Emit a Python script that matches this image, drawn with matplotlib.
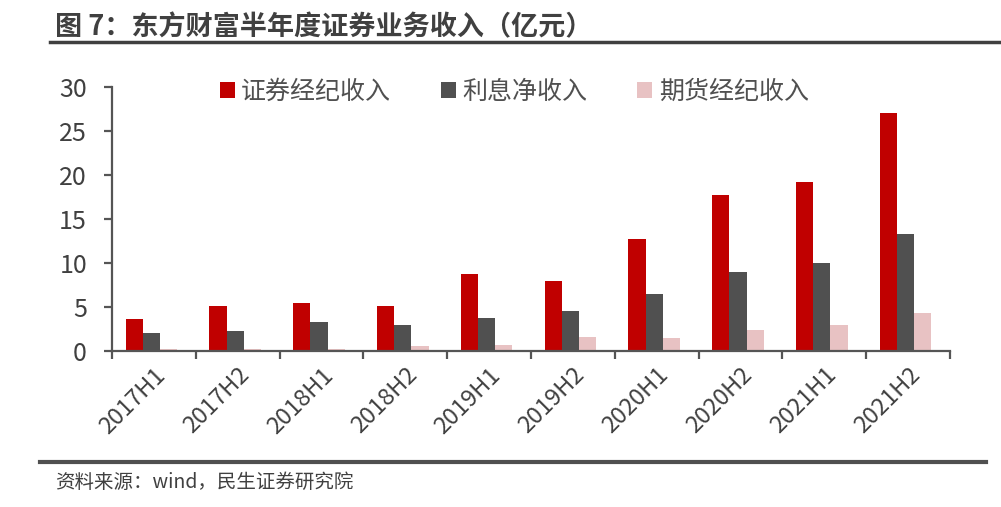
import matplotlib
matplotlib.use("Agg")
import matplotlib.pyplot as plt
import numpy as np
from matplotlib.lines import Line2D

plt.rcParams["font.family"] = ["Noto Sans CJK SC", "DejaVu Sans"]

periods = ["2017H1", "2017H2", "2018H1", "2018H2", "2019H1",
           "2019H2", "2020H1", "2020H2", "2021H1", "2021H2"]
brokerage = [3.6, 5.1, 5.5, 5.1, 8.8, 7.9, 12.7, 17.7, 19.2, 27.0]
net_interest = [2.0, 2.3, 3.3, 3.0, 3.7, 4.5, 6.5, 9.0, 10.0, 13.3]
futures = [0.25, 0.25, 0.25, 0.6, 0.7, 1.6, 1.5, 2.4, 3.0, 4.3]
series_names = ["证券经纪收入", "利息净收入", "期货经纪收入"]
colors = ["#C00000", "#505050", "#E8C2C3"]

fig = plt.figure(figsize=(10.01, 5.07), dpi=100)
ax = fig.add_axes([112 / 1001, 156 / 507, 838 / 1001, 264 / 507])

x = np.arange(len(periods))
w = 0.205
for i, (vals, name, c) in enumerate(zip([brokerage, net_interest, futures], series_names, colors)):
    ax.bar(x + (i - 1) * w - 0.03, vals, width=w, color=c, label=name, zorder=2)

ax.set_xlim(-0.5, len(periods) - 0.5)
ax.set_ylim(0, 30)
ax.set_yticks(range(0, 31, 5))
ax.set_xticks(x)
ax.set_xticklabels(periods, rotation=45, ha="right", rotation_mode="anchor",
                   fontsize=17, color="#404040")
ax.set_xticks(np.arange(-0.5, len(periods)), minor=True)
ax.tick_params(axis="x", which="major", length=0, pad=9)
ax.tick_params(axis="x", which="minor", length=6, width=1.6, color="#555555", direction="out")
ax.tick_params(axis="y", length=6, width=1.6, color="#555555", labelsize=18,
               labelcolor="#404040", pad=12)
for s in ["top", "right"]:
    ax.spines[s].set_visible(False)
for s in ["left", "bottom"]:
    ax.spines[s].set_color("#555555")
    ax.spines[s].set_linewidth(1.6)

ax.legend(loc="upper center", bbox_to_anchor=(0.48, 1.115), ncol=3, frameon=False,
          fontsize=18, handlelength=0.6, handleheight=0.6, handletextpad=0.25,
          columnspacing=2.0, labelcolor="#505050")

fig.text(55 / 1001, 1 - 27 / 507, "图 7：东方财富半年度证券业务收入（亿元）", fontsize=19.5,
         fontweight="bold", color="#404040", va="center", ha="left")
fig.add_artist(Line2D([50 / 1001, 1.0], [1 - 42 / 507, 1 - 42 / 507],
                      color="#404040", linewidth=2.5))
fig.add_artist(Line2D([40 / 1001, 986 / 1001], [1 - 462 / 507, 1 - 462 / 507],
                      color="#505050", linewidth=3))
fig.text(55 / 1001, 1 - 482 / 507, "资料来源：wind，民生证券研究院", fontsize=14,
         color="#404040", va="center", ha="left")

fig.savefig("out.png", dpi=100)
